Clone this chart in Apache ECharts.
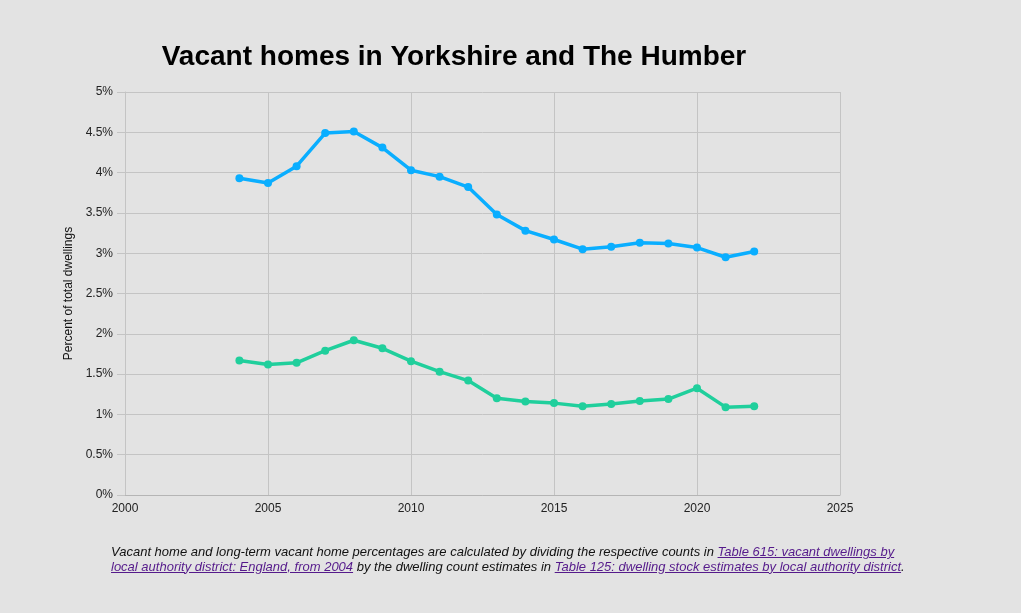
<!DOCTYPE html>
<html>
<head>
<meta charset="utf-8">
<script src="https://cdn.jsdelivr.net/npm/echarts@6/dist/echarts.min.js"></script>
<style>
    html, body { margin: 0; padding: 0; background: #e3e3e3; }
    #chart { width: 1021px; height: 613px; }
    #note {
        position: absolute; left: 111px; top: 545px; width: 800px;
        font-family: 'Liberation Sans', Arial, sans-serif; font-style: italic;
        font-size: 13px; line-height: 14.5px; color: #111;
    }
    #note a { color: #551a8b; text-decoration: underline; }
</style>
</head>
<body>
<div id="chart"></div>
<div id="note">Vacant home and long-term vacant home percentages are calculated by dividing the respective counts in <a href="#">Table 615: vacant dwellings by local authority district: England, from 2004</a> by the dwelling count estimates in <a href="#">Table 125: dwelling stock estimates by local authority district</a>.</div>
<script>
// years 2004 .. 2022
const years = [2004, 2005, 2006, 2007, 2008, 2009, 2010, 2011, 2012, 2013,
    2014, 2015, 2016, 2017, 2018, 2019, 2020, 2021, 2022];
// all vacant homes, % of dwellings
const vacant = [3.93, 3.87, 4.08, 4.49, 4.51, 4.31, 4.03, 3.95, 3.82, 3.48,
    3.28, 3.17, 3.05, 3.08, 3.13, 3.12, 3.07, 2.95, 3.02];
// long-term vacant homes, % of dwellings
const longTerm = [1.67, 1.62, 1.64, 1.79, 1.92, 1.82, 1.66, 1.53, 1.42, 1.20,
    1.16, 1.14, 1.10, 1.13, 1.165, 1.19, 1.325, 1.09, 1.10];

const font = 'Liberation Sans';
const pairs = (vals) => years.map((y, i) => [y, vals[i]]);

var chart = echarts.init(document.getElementById('chart'));
const option = {
    backgroundColor: '#e3e3e3',
    animation: false,
    title: {
        text: 'Vacant homes in Yorkshire and The Humber',
        left: 449,
        top: 38,
        textAlign: 'center',
        textStyle: { fontFamily: font, fontSize: 28, fontWeight: 'bold', color: '#000' }
    },
    grid: { left: 125, right: 181, top: 92, bottom: 118 },
    xAxis: {
        type: 'value',
        min: 2000,
        max: 2025,
        interval: 5,
        axisLine: { show: true, lineStyle: { color: '#b5b5b5' } },
        axisTick: { show: false },
        axisLabel: { fontFamily: font, fontSize: 12, color: '#222', margin: 8,
            formatter: (v) => String(v) },
        splitLine: { show: true, lineStyle: { color: '#c4c4c4' } }
    },
    yAxis: {
        type: 'value',
        min: 0,
        max: 5,
        interval: 0.5,
        name: 'Percent of total dwellings',
        nameLocation: 'middle',
        nameGap: 43,
        nameTextStyle: { fontFamily: font, fontSize: 12, color: '#111' },
        axisLine: { show: true, lineStyle: { color: '#c4c4c4' } },
        axisTick: { show: true, length: 8, lineStyle: { color: '#c4c4c4' } },
        axisLabel: { fontFamily: font, fontSize: 12, color: '#222', margin: 12,
            formatter: (v) => v + '%' },
        splitLine: { show: true, lineStyle: { color: '#c4c4c4' } }
    },
    series: [
        {
            name: 'Vacant',
            type: 'line',
            data: pairs(vacant),
            symbol: 'circle',
            symbolSize: 8,
            itemStyle: { color: '#0aaeff' },
            lineStyle: { width: 3.5, color: '#0aaeff' }
        },
        {
            name: 'Long-term vacant',
            type: 'line',
            data: pairs(longTerm),
            symbol: 'circle',
            symbolSize: 8,
            itemStyle: { color: '#20cf9c' },
            lineStyle: { width: 3.5, color: '#20cf9c' }
        }
    ]
};
chart.setOption(option);
</script>
</body>
</html>
